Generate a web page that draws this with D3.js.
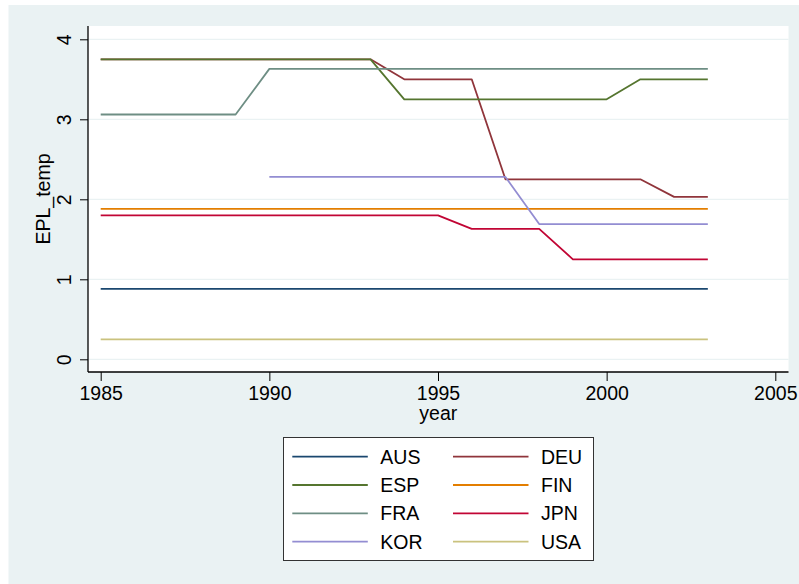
<!DOCTYPE html>
<html>
<head>
<meta charset="utf-8">
<script src="https://cdn.jsdelivr.net/npm/d3@7"></script>
<style>
    body { margin: 0; background: #ffffff; }
    svg { display: block; }
    text { font-family: "Liberation Sans", Arial, sans-serif; fill: #000; }
</style>
</head>
<body>
<svg id="chart" width="799" height="584"></svg>
<script>
// country series, in the order Stata draws them
var countries = ["AUS", "DEU", "ESP", "FIN", "FRA", "JPN", "KOR", "USA"];
var colors = ["#1a476f", "#90353b", "#55752f", "#e37e00", "#6e8e84", "#c10534", "#938dd2", "#cac27e"];

var years = d3.range(1985, 2004);

// EPL_temp per year, 1985..2003 (null = no observation)
var AUS = [0.88, 0.88, 0.88, 0.88, 0.88, 0.88, 0.88, 0.88, 0.88, 0.88, 0.88, 0.88, 0.88, 0.88, 0.88, 0.88, 0.88, 0.88, 0.88];
var DEU = [3.75, 3.75, 3.75, 3.75, 3.75, 3.75, 3.75, 3.75, 3.75, 3.5, 3.5, 3.5, 2.25, 2.25, 2.25, 2.25, 2.25, 2.03, 2.03];
var ESP = [3.75, 3.75, 3.75, 3.75, 3.75, 3.75, 3.75, 3.75, 3.75, 3.25, 3.25, 3.25, 3.25, 3.25, 3.25, 3.25, 3.5, 3.5, 3.5];
var FIN = [1.88, 1.88, 1.88, 1.88, 1.88, 1.88, 1.88, 1.88, 1.88, 1.88, 1.88, 1.88, 1.88, 1.88, 1.88, 1.88, 1.88, 1.88, 1.88];
var FRA = [3.06, 3.06, 3.06, 3.06, 3.06, 3.63, 3.63, 3.63, 3.63, 3.63, 3.63, 3.63, 3.63, 3.63, 3.63, 3.63, 3.63, 3.63, 3.63];
var JPN = [1.8, 1.8, 1.8, 1.8, 1.8, 1.8, 1.8, 1.8, 1.8, 1.8, 1.8, 1.63, 1.63, 1.63, 1.25, 1.25, 1.25, 1.25, 1.25];
var KOR = [null, null, null, null, null, 2.28, 2.28, 2.28, 2.28, 2.28, 2.28, 2.28, 2.28, 1.69, 1.69, 1.69, 1.69, 1.69, 1.69];
var USA = [0.25, 0.25, 0.25, 0.25, 0.25, 0.25, 0.25, 0.25, 0.25, 0.25, 0.25, 0.25, 0.25, 0.25, 0.25, 0.25, 0.25, 0.25, 0.25];

var seriesValues = [AUS, DEU, ESP, FIN, FRA, JPN, KOR, USA];

var xTicks = [1985, 1990, 1995, 2000, 2005];
var yTicks = [0, 1, 2, 3, 4];

var svg = d3.select("#chart"),
    plot = { left: 88, right: 788.5, top: 26, bottom: 372 },
    fontSize = 19.5;

var x = d3.scaleLinear().domain([1985, 2005]).range([100.7, 775.3]),
    y = d3.scaleLinear().domain([0, 4]).range([359.3, 39.3]);

// graph region and plot region
svg.append("rect")
    .attr("x", 8.5).attr("y", 5)
    .attr("width", 799 - 8.5).attr("height", 584 - 5)
    .attr("fill", "#eaf2f3");

svg.append("rect")
    .attr("x", plot.left).attr("y", plot.top)
    .attr("width", plot.right - plot.left).attr("height", plot.bottom - plot.top)
    .attr("fill", "#ffffff");

// horizontal grid lines
svg.append("g")
    .selectAll("line")
    .data(yTicks)
    .join("line")
    .attr("x1", plot.left).attr("x2", plot.right)
    .attr("y1", function (d) { return y(d); })
    .attr("y2", function (d) { return y(d); })
    .attr("stroke", "#eaf2f3")
    .attr("stroke-width", 1.2);

// series lines
var line = d3.line()
    .defined(function (d) { return d.v !== null; })
    .x(function (d) { return x(d.year); })
    .y(function (d) { return y(d.v); });

countries.forEach(function (c, i) {
    var pts = years.map(function (yr, j) { return { year: yr, v: seriesValues[i][j] }; });
    svg.append("path")
        .datum(pts)
        .attr("d", line)
        .attr("fill", "none")
        .attr("stroke", colors[i])
        .attr("stroke-width", 1.8)
        .attr("stroke-linejoin", "round");
});

// y axis
var yAxis = svg.append("g")
    .attr("transform", "translate(" + plot.left + ",0)")
    .call(d3.axisLeft(y).tickValues(yTicks).tickSize(8).tickSizeOuter(0).tickFormat(d3.format("d")));
yAxis.select(".domain").remove();
yAxis.append("line")
    .attr("x1", 0).attr("x2", 0)
    .attr("y1", plot.top).attr("y2", plot.bottom)
    .attr("stroke", "#000").attr("stroke-width", 1.3);
yAxis.selectAll(".tick line").attr("stroke", "#000").attr("stroke-width", 1);
yAxis.selectAll(".tick text")
    .attr("x", null).attr("dy", null)
    .attr("text-anchor", "middle")
    .attr("transform", "translate(-17,0) rotate(-90)")
    .style("font-size", fontSize + "px")
    .style("font-family", "Liberation Sans, Arial, sans-serif");

// x axis
var xAxis = svg.append("g")
    .attr("transform", "translate(0," + plot.bottom + ")")
    .call(d3.axisBottom(x).tickValues(xTicks).tickSize(9).tickSizeOuter(0).tickFormat(d3.format("d")));
xAxis.select(".domain").remove();
xAxis.append("line")
    .attr("x1", plot.left).attr("x2", plot.right)
    .attr("y1", 0).attr("y2", 0)
    .attr("stroke", "#000").attr("stroke-width", 1.3);
xAxis.selectAll(".tick line").attr("stroke", "#000").attr("stroke-width", 1);
xAxis.selectAll(".tick text")
    .attr("y", 28).attr("dy", null)
    .style("font-size", fontSize + "px")
    .style("font-family", "Liberation Sans, Arial, sans-serif");

// axis titles
svg.append("text")
    .attr("x", (plot.left + plot.right) / 2)
    .attr("y", 420)
    .attr("text-anchor", "middle")
    .style("font-size", fontSize + "px")
    .text("year");

svg.append("text")
    .attr("transform", "translate(49.5," + (plot.top + plot.bottom) / 2 + ") rotate(-90)")
    .attr("text-anchor", "middle")
    .style("font-size", fontSize + "px")
    .text("EPL_temp");

// legend, two columns in row order
var legend = svg.append("g");
legend.append("rect")
    .attr("x", 283.5).attr("y", 437.5)
    .attr("width", 310).attr("height", 123)
    .attr("fill", "#ffffff")
    .attr("stroke", "#333333")
    .attr("stroke-width", 1);

var colX = [292.3, 453], rowY0 = 456.7, rowStep = 28.3;
countries.forEach(function (c, i) {
    var cx = colX[i % 2],
        cy = rowY0 + Math.floor(i / 2) * rowStep;
    legend.append("line")
        .attr("x1", cx).attr("x2", cx + 75.5)
        .attr("y1", cy).attr("y2", cy)
        .attr("stroke", colors[i])
        .attr("stroke-width", 1.8);
    legend.append("text")
        .attr("x", cx + 88)
        .attr("y", cy)
        .attr("dy", "0.36em")
        .style("font-size", fontSize + "px")
        .text(c);
});
</script>
</body>
</html>
